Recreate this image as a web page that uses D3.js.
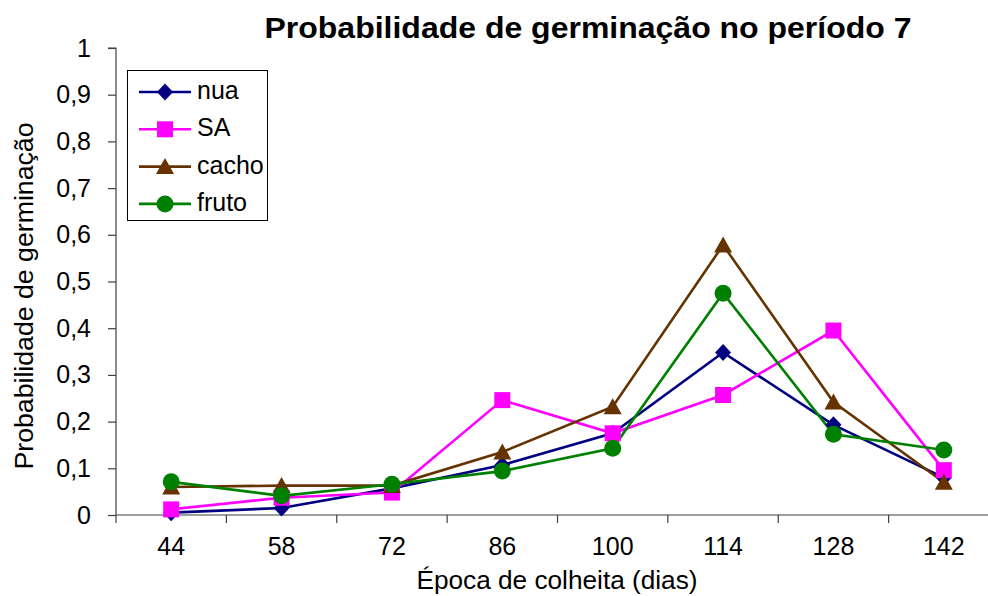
<!DOCTYPE html>
<html><head><meta charset="utf-8">
<script src="https://cdn.jsdelivr.net/npm/d3@7/dist/d3.min.js"></script>
<style>body{margin:0;background:#fff}svg{display:block;font-family:"Liberation Sans",Arial,sans-serif}</style>
</head><body><svg id="c" width="988" height="596"></svg>
<script>
const categories = ["44","58","72","86","100","114","128","142"];
const nua   = [0.005,0.015,0.057,0.107,0.175,0.348,0.193,0.080];
const SA    = [0.012,0.037,0.048,0.246,0.175,0.257,0.395,0.096];
const cacho = [0.060,0.063,0.063,0.135,0.232,0.578,0.242,0.070];
const fruto = [0.071,0.041,0.066,0.094,0.143,0.475,0.173,0.139];
const yTicks = [0,0.1,0.2,0.3,0.4,0.5,0.6,0.7,0.8,0.9,1];
const seriesNames = ["nua","SA","cacho","fruto"];
const seriesColors = ["#000080","#FF00FF","#663300","#008000"];
const series = [nua, SA, cacho, fruto];

// custom marker shapes
const diamond = {draw(c){ c.moveTo(0,-8.5); c.lineTo(8,0); c.lineTo(0,8.5); c.lineTo(-8,0); c.closePath(); }};
const square  = {draw(c){ c.rect(-8,-8,16,16); }};
const triangle= {draw(c){ c.moveTo(0,-8.5); c.lineTo(9,7.5); c.lineTo(-9,7.5); c.closePath(); }};
const circle  = {draw(c){ c.moveTo(8.5,0); c.arc(0,0,8.5,0,2*Math.PI); }};
const seriesShapes = [diamond, square, triangle, circle];

const svg = d3.select("#c");
const pL = 116, pR = 999, pT = 48, pB = 515;
const x = d3.scaleBand().domain(categories).range([pL, pR]).padding(0);
const y = d3.scaleLinear().domain([0,1]).range([pB, pT]);
const FONT = "Liberation Sans, Arial, sans-serif";

// Y axis
const ya = svg.append("g").attr("transform",`translate(${pL},0)`)
  .call(d3.axisLeft(y).tickValues(yTicks).tickSize(8).tickPadding(17)
    .tickFormat(d => d3.format(".1~f")(d).replace(".", ",")));
ya.select(".domain").attr("stroke","#404040").attr("stroke-width",1.2).attr("d",`M-8,${pT}H0V${pB}`);
ya.selectAll(".tick line").attr("stroke","#404040").attr("stroke-width",1.2);
ya.selectAll(".tick text").attr("font-size",25).attr("fill","#000").attr("font-family",FONT);

// X axis
const xa = svg.append("g").attr("transform",`translate(0,${pB})`)
  .call(d3.axisBottom(x).tickSize(0).tickPadding(22));
xa.select(".domain").attr("stroke","#404040").attr("stroke-width",1.2).attr("d",`M${pL},0H${pR}`);
xa.selectAll(".tick text").attr("font-size",25).attr("fill","#000").attr("font-family",FONT);
const bounds = categories.map(c => x(c)).concat([x(categories[categories.length-1]) + x.bandwidth()]);
xa.selectAll(".btick").data(bounds).enter().append("line")
  .attr("x1",d=>d).attr("x2",d=>d).attr("y1",0).attr("y2",8)
  .attr("stroke","#404040").attr("stroke-width",1.2);

// Lines and markers
const line = d3.line().x((d,i)=>x(categories[i]) + x.bandwidth()/2).y(d=>y(d));
series.forEach((s,k)=>{
  svg.append("path").attr("d",line(s)).attr("fill","none")
    .attr("stroke",seriesColors[k]).attr("stroke-width",2.6);
});
series.forEach((s,k)=>{
  svg.append("g").selectAll("path").data(s).enter().append("path")
    .attr("transform",(d,i)=>`translate(${x(categories[i]) + x.bandwidth()/2},${y(d)})`)
    .attr("d", d3.symbol().type(seriesShapes[k]))
    .attr("fill",seriesColors[k]);
});

// Legend
const lg = svg.append("g");
lg.append("rect").attr("x",127.5).attr("y",70.5).attr("width",140).attr("height",150)
  .attr("fill","#fff").attr("stroke","#000").attr("stroke-width",1);
seriesNames.forEach((n,k)=>{
  const yy = 92 + k*37.3;
  lg.append("line").attr("x1",139).attr("x2",191).attr("y1",yy).attr("y2",yy)
    .attr("stroke",seriesColors[k]).attr("stroke-width",2.6);
  lg.append("path").attr("transform",`translate(165,${yy})`)
    .attr("d", d3.symbol().type(seriesShapes[k])).attr("fill",seriesColors[k]);
  lg.append("text").attr("x",197).attr("y",yy+7).attr("font-size",25).text(n);
});

// Titles
svg.append("text").attr("x",588).attr("y",38).attr("text-anchor","middle")
  .attr("font-size",30).attr("font-weight","bold")
  .attr("textLength",647).attr("lengthAdjust","spacingAndGlyphs")
  .text("Probabilidade de germinação no período 7");
svg.append("text").attr("x",557).attr("y",589).attr("text-anchor","middle")
  .attr("font-size",25).attr("textLength",281).attr("lengthAdjust","spacingAndGlyphs")
  .text("Época de colheita (dias)");
svg.append("text").attr("transform","translate(33,296) rotate(-90)").attr("text-anchor","middle")
  .attr("font-size",25).attr("textLength",347).attr("lengthAdjust","spacingAndGlyphs")
  .text("Probabilidade de germinação");
</script></body></html>
